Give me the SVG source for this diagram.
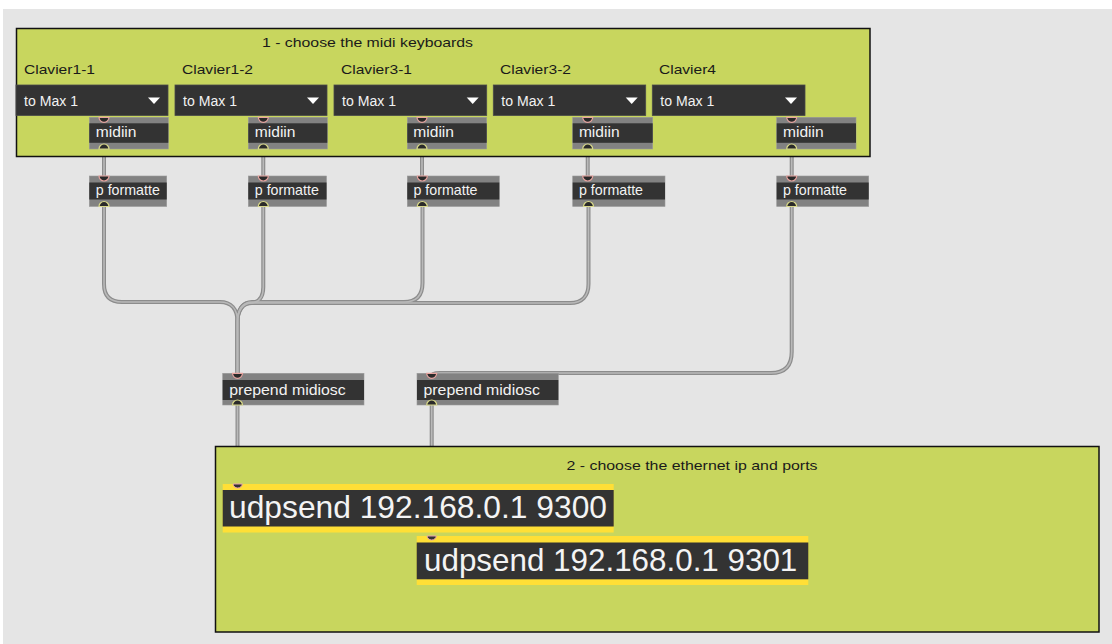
<svg xmlns="http://www.w3.org/2000/svg" width="1112" height="644" viewBox="0 0 1112 644">
<defs>
<style>
.t{font-family:"Liberation Sans",Arial,sans-serif;}
.lbl{font-size:13.5px;fill:#1a1a1a;}
.obj{font-size:14.5px;fill:#f2f2f2;}
.dd{font-size:14px;fill:#f2f2f2;}
.big{font-size:31.8px;fill:#f4f4f4;}
.panel{fill:#c8d65e;stroke:#111;stroke-width:1.5;}
.band{fill:#828282;stroke:#9a9a9a;stroke-width:0.6;}
.dark{fill:#333333;}
.ddbox{fill:#333333;stroke:#4a4a4a;stroke-width:0.8;}
.tri{fill:#ffffff;}
.inlet{fill:#2a2a2a;stroke:#e8a4a0;stroke-width:1.2;}
.outlet{fill:#2a2a2a;stroke:#d9d98a;stroke-width:1.2;}
.uinlet{fill:#333;stroke:#e9a2b0;stroke-width:1;}
.yel{fill:#ffdf36;}
.wo{fill:none;stroke:#8c8c8c;stroke-width:4;stroke-linejoin:round;}
.wi{fill:none;stroke:#b9b9b9;stroke-width:1.6;stroke-linejoin:round;}
</style>
</defs>
<rect x="0" y="0" width="1112" height="644" fill="#ffffff"/>
<rect x="3" y="9" width="1109" height="635" fill="#e5e5e5"/>

<g id="connectors">
<g>
<path class="wo" d="M104,149 V176"/>
<path class="wo" d="M263.3,149 V176"/>
<path class="wo" d="M422,149 V176"/>
<path class="wo" d="M587.7,149 V176"/>
<path class="wo" d="M791.7,149 V176"/>
<path class="wo" d="M104,207 V284 C104,296 110,302 122,302 H220 C231,302 237.5,309 237.5,322 V373"/>
<path class="wo" d="M263.3,207 V287 C263.3,298 258,303 250,303 C242,303 237.5,310 237.5,322 V373"/>
<path class="wo" d="M422.5,207 V283 C422.5,296 416,302 404,302 H252 C243,302 237.5,310 237.5,322 V373"/>
<path class="wo" d="M588.5,207 V284 C588.5,296 582,303 570,303 H252 C243,303 237.5,310 237.5,322 V373"/>
<path class="wo" d="M791.7,207 V352 C791.7,366 785,373 771,373 H440 C434,373 431.7,374 431.7,376"/>
<path class="wo" d="M237.5,405 V484"/>
<path class="wo" d="M431.7,405 V536"/>
</g>
<g>
<path class="wi" d="M104,149 V176"/>
<path class="wi" d="M263.3,149 V176"/>
<path class="wi" d="M422,149 V176"/>
<path class="wi" d="M587.7,149 V176"/>
<path class="wi" d="M791.7,149 V176"/>
<path class="wi" d="M104,207 V284 C104,296 110,302 122,302 H220 C231,302 237.5,309 237.5,322 V373"/>
<path class="wi" d="M263.3,207 V287 C263.3,298 258,303 250,303 C242,303 237.5,310 237.5,322 V373"/>
<path class="wi" d="M422.5,207 V283 C422.5,296 416,302 404,302 H252 C243,302 237.5,310 237.5,322 V373"/>
<path class="wi" d="M588.5,207 V284 C588.5,296 582,303 570,303 H252 C243,303 237.5,310 237.5,322 V373"/>
<path class="wi" d="M791.7,207 V352 C791.7,366 785,373 771,373 H440 C434,373 431.7,374 431.7,376"/>
<path class="wi" d="M237.5,405 V484"/>
<path class="wi" d="M431.7,405 V536"/>
</g>
</g>

<g id="panel1">
<rect class="panel" x="16.5" y="28.5" width="853.5" height="128"/>
<text class="t lbl" x="262" y="47" textLength="211" lengthAdjust="spacingAndGlyphs">1 - choose the midi keyboards</text>
</g>
<g id="panel2">
<rect class="panel" x="215.5" y="446.5" width="883.5" height="185.5"/>
<text class="t lbl" x="566.5" y="470" textLength="251" lengthAdjust="spacingAndGlyphs">2 - choose the ethernet ip and ports</text>
</g>

<g id="label-clavier1-1"><text class="t lbl" x="24" y="74" textLength="71" lengthAdjust="spacingAndGlyphs">Clavier1-1</text></g>
<g id="label-clavier1-2"><text class="t lbl" x="182" y="74" textLength="71" lengthAdjust="spacingAndGlyphs">Clavier1-2</text></g>
<g id="label-clavier3-1"><text class="t lbl" x="341" y="74" textLength="71" lengthAdjust="spacingAndGlyphs">Clavier3-1</text></g>
<g id="label-clavier3-2"><text class="t lbl" x="500" y="74" textLength="71" lengthAdjust="spacingAndGlyphs">Clavier3-2</text></g>
<g id="label-clavier4"><text class="t lbl" x="659" y="74" textLength="57" lengthAdjust="spacingAndGlyphs">Clavier4</text></g>

<g id="menu1"><rect class="ddbox" x="16" y="85" width="152" height="30.5"/><text class="t dd" x="24" y="106" textLength="54" lengthAdjust="spacingAndGlyphs">to Max 1</text><polygon class="tri" points="148,97.5 160,97.5 154,104"/></g>
<g id="menu2"><rect class="ddbox" x="175" y="85" width="152" height="30.5"/><text class="t dd" x="183" y="106" textLength="54" lengthAdjust="spacingAndGlyphs">to Max 1</text><polygon class="tri" points="307,97.5 319,97.5 313,104"/></g>
<g id="menu3"><rect class="ddbox" x="334" y="85" width="152.7" height="30.5"/><text class="t dd" x="342" y="106" textLength="54" lengthAdjust="spacingAndGlyphs">to Max 1</text><polygon class="tri" points="466.7,97.5 478.7,97.5 472.7,104"/></g>
<g id="menu4"><rect class="ddbox" x="493.3" y="85" width="152.4" height="30.5"/><text class="t dd" x="501.3" y="106" textLength="54" lengthAdjust="spacingAndGlyphs">to Max 1</text><polygon class="tri" points="625.7,97.5 637.7,97.5 631.7,104"/></g>
<g id="menu5"><rect class="ddbox" x="652.3" y="85" width="152.7" height="30.5"/><text class="t dd" x="660.3" y="106" textLength="54" lengthAdjust="spacingAndGlyphs">to Max 1</text><polygon class="tri" points="785,97.5 797,97.5 791,104"/></g>

<g id="midiin1"><rect class="band" x="89.3" y="117.3" width="79" height="31.7"/><rect class="dark" x="89.3" y="123.3" width="79" height="19.5"/><text class="t obj" x="95.8" y="137.3" textLength="40.7" lengthAdjust="spacingAndGlyphs">midiin</text><path class="inlet" d="M99,117.3 A5,5 0 0 0 109,117.3 Z"/><path class="outlet" d="M99,149 A5,5 0 0 1 109,149 Z"/></g>
<g id="midiin2"><rect class="band" x="248.3" y="117.3" width="79" height="31.7"/><rect class="dark" x="248.3" y="123.3" width="79" height="19.5"/><text class="t obj" x="254.8" y="137.3" textLength="40.7" lengthAdjust="spacingAndGlyphs">midiin</text><path class="inlet" d="M258.3,117.3 A5,5 0 0 0 268.3,117.3 Z"/><path class="outlet" d="M258.3,149 A5,5 0 0 1 268.3,149 Z"/></g>
<g id="midiin3"><rect class="band" x="407.3" y="117.3" width="79.4" height="31.7"/><rect class="dark" x="407.3" y="123.3" width="79.4" height="19.5"/><text class="t obj" x="413.3" y="137.3" textLength="40.7" lengthAdjust="spacingAndGlyphs">midiin</text><path class="inlet" d="M417,117.3 A5,5 0 0 0 427,117.3 Z"/><path class="outlet" d="M417,149 A5,5 0 0 1 427,149 Z"/></g>
<g id="midiin4"><rect class="band" x="572.7" y="117.3" width="80" height="31.7"/><rect class="dark" x="572.7" y="123.3" width="80" height="19.5"/><text class="t obj" x="578.9" y="137.3" textLength="40.7" lengthAdjust="spacingAndGlyphs">midiin</text><path class="inlet" d="M582.7,117.3 A5,5 0 0 0 592.7,117.3 Z"/><path class="outlet" d="M582.7,149 A5,5 0 0 1 592.7,149 Z"/></g>
<g id="midiin5"><rect class="band" x="776.7" y="117.3" width="79.3" height="31.7"/><rect class="dark" x="776.7" y="123.3" width="79.3" height="19.5"/><text class="t obj" x="783" y="137.3" textLength="40.7" lengthAdjust="spacingAndGlyphs">midiin</text><path class="inlet" d="M786.7,117.3 A5,5 0 0 0 796.7,117.3 Z"/><path class="outlet" d="M786.7,149 A5,5 0 0 1 796.7,149 Z"/></g>

<g id="pformatte1"><rect class="band" x="89.3" y="176" width="77.4" height="30.5"/><rect class="dark" x="89.3" y="182.5" width="77.4" height="17"/><text class="t obj" x="95.8" y="195" textLength="64" lengthAdjust="spacingAndGlyphs">p formatte</text><path class="inlet" d="M99,176 A5,5 0 0 0 109,176 Z"/><path class="outlet" d="M99,206.5 A5,5 0 0 1 109,206.5 Z"/></g>
<g id="pformatte2"><rect class="band" x="248.3" y="176" width="78.2" height="30.5"/><rect class="dark" x="248.3" y="182.5" width="78.2" height="17"/><text class="t obj" x="254.8" y="195" textLength="64" lengthAdjust="spacingAndGlyphs">p formatte</text><path class="inlet" d="M258.3,176 A5,5 0 0 0 268.3,176 Z"/><path class="outlet" d="M258.3,206.5 A5,5 0 0 1 268.3,206.5 Z"/></g>
<g id="pformatte3"><rect class="band" x="407.3" y="176" width="92" height="30.5"/><rect class="dark" x="407.3" y="182.5" width="92" height="17"/><text class="t obj" x="413.5" y="195" textLength="64" lengthAdjust="spacingAndGlyphs">p formatte</text><path class="inlet" d="M417.3,176 A5,5 0 0 0 427.3,176 Z"/><path class="outlet" d="M417.3,206.5 A5,5 0 0 1 427.3,206.5 Z"/></g>
<g id="pformatte4"><rect class="band" x="572.7" y="176" width="92.3" height="30.5"/><rect class="dark" x="572.7" y="182.5" width="92.3" height="17"/><text class="t obj" x="579" y="195" textLength="64" lengthAdjust="spacingAndGlyphs">p formatte</text><path class="inlet" d="M582.7,176 A5,5 0 0 0 592.7,176 Z"/><path class="outlet" d="M583.5,206.5 A5,5 0 0 1 593.5,206.5 Z"/></g>
<g id="pformatte5"><rect class="band" x="776.7" y="176" width="92" height="30.5"/><rect class="dark" x="776.7" y="182.5" width="92" height="17"/><text class="t obj" x="783" y="195" textLength="64" lengthAdjust="spacingAndGlyphs">p formatte</text><path class="inlet" d="M786.7,176 A5,5 0 0 0 796.7,176 Z"/><path class="outlet" d="M786.7,206.5 A5,5 0 0 1 796.7,206.5 Z"/></g>

<g id="prepend1"><rect class="band" x="222.7" y="373.3" width="141.3" height="31.7"/><rect class="dark" x="222.7" y="380" width="141.3" height="20"/><text class="t obj" x="229.3" y="394.5" textLength="116.4" lengthAdjust="spacingAndGlyphs">prepend midiosc</text><path class="inlet" d="M232.5,373.3 A5,5 0 0 0 242.5,373.3 Z"/><path class="outlet" d="M232.5,405 A5,5 0 0 1 242.5,405 Z"/></g>
<g id="prepend2"><rect class="band" x="417" y="373.3" width="141.3" height="31.7"/><rect class="dark" x="417" y="380" width="141.3" height="20"/><text class="t obj" x="423.5" y="394.5" textLength="116.4" lengthAdjust="spacingAndGlyphs">prepend midiosc</text><path class="inlet" d="M426.7,373.3 A5,5 0 0 0 436.7,373.3 Z"/><path class="outlet" d="M426.7,405 A5,5 0 0 1 436.7,405 Z"/></g>

<g id="udpsend1"><rect class="yel" x="222.7" y="484" width="391" height="48.5"/><rect class="dark" x="222.7" y="490" width="391" height="36.5"/><text class="t big" x="229" y="517.7" textLength="378" lengthAdjust="spacingAndGlyphs">udpsend 192.168.0.1 9300</text><path class="uinlet" d="M233.2,484 A4.5,4 0 0 0 242.2,484 Z"/></g>
<g id="udpsend2"><rect class="yel" x="416.7" y="536" width="391.6" height="49"/><rect class="dark" x="416.7" y="542.5" width="391.6" height="36.8"/><text class="t big" x="424" y="570.7" textLength="373.3" lengthAdjust="spacingAndGlyphs">udpsend 192.168.0.1 9301</text><path class="uinlet" d="M427.2,536 A4.5,4 0 0 0 436.2,536 Z"/></g>
</svg>
